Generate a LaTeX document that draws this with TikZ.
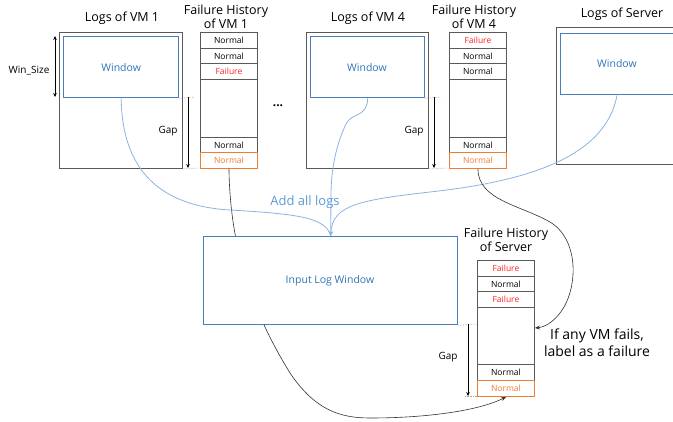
\documentclass[tikz,border=0pt]{standalone}
\usepackage{fontspec}
\setmainfont{Open Sans}
\usetikzlibrary{arrows.meta}
\definecolor{winblue}{HTML}{4A7EBB}
\definecolor{wintext}{HTML}{2E75B6}
\definecolor{flowblue}{HTML}{8DB3E2}
\definecolor{addblue}{HTML}{5B9BD5}
\definecolor{failred}{HTML}{FF2020}
\definecolor{lastorange}{HTML}{ED7D31}
\definecolor{boxgray}{HTML}{595959}
\tikzset{
  logbox/.style={draw=boxgray, line width=0.9pt, anchor=north west, inner sep=0pt},
  winbox/.style={draw=winblue, line width=1.4pt, fill=white, text=wintext,
    font=\fontsize{10.5}{12}\selectfont, anchor=north west, inner sep=0pt},
  cell/.style={draw=boxgray, line width=0.9pt, minimum width=57pt, inner sep=0pt,
    anchor=north west, font=\fontsize{8.5}{10}\selectfont},
  okcell/.style={cell, text=black},
  failcell/.style={cell, text=failred},
  lastcell/.style={cell, draw=lastorange, text=lastorange},
  title/.style={font=\fontsize{12.5}{14.5}\selectfont, align=center},
  label/.style={font=\fontsize{10}{12}\selectfont},
  wintitle/.style={text=wintext, font=\fontsize{10.5}{12}\selectfont},
  gapline/.style={draw=black!35, densely dotted, line width=0.6pt},
  gaparrow/.style={draw=black, line width=0.5pt, -{Stealth[length=4pt,width=3.5pt]}},
  sizearrow/.style={draw=black, line width=0.5pt, {Stealth[length=4pt,width=3.5pt]}-{Stealth[length=4pt,width=3.5pt]}},
  flow/.style={draw=flowblue, line width=0.8pt},
  flowtip/.style={flow, -{Stealth[length=5pt,width=5pt,fill=flowblue]}},
  merge/.style={draw=black!80, line width=0.6pt, -{Stealth[length=5pt,width=4pt]}},
}
\begin{document}
\begin{tikzpicture}[x=1pt,y=-1pt]
\useasboundingbox (0,0) rectangle (673,421);
\fill[white] (0,0) rectangle (673,421);

% ---- logs of the virtual machines and the server
\node[logbox, minimum width=123pt, minimum height=136pt] (vm1) at (59,32) {};
\node[winbox, minimum width=115pt, minimum height=61pt] (w1) at (63,36) {Window};
\node[title] (t1) at (122,18) {Logs of VM 1};

\node[logbox, minimum width=122pt, minimum height=136pt] (vm4) at (306,32) {};
\node[winbox, minimum width=114pt, minimum height=61pt] (w4) at (310,36) {};
\node[wintitle] (w4t) at (367,68) {Window};
\node[title] (t4) at (368,18) {Logs of VM 4};

\node[logbox, minimum width=160pt, minimum height=137pt] (srv) at (556,27) {};
\node[winbox, minimum width=160pt, minimum height=61pt] (ws) at (560,33) {};
\node[wintitle] (wst) at (617,64) {Window};
\node[title] (ts) at (622,14) {Logs of Server};

\node[font=\bfseries\fontsize{12}{14}\selectfont] (dots) at (278,106) {...};

% ---- window size and gaps
\coordinate (ws1a) at (55,36);
\coordinate (ws1b) at (55,97);
\draw[sizearrow] (ws1a) -- (ws1b);
\node[label] (wsl) at (29,71) {Win\_Size};

\coordinate (g1a) at (195,97);
\coordinate (g1b) at (199,168);
\draw[gapline] (w1.south east) -- (g1a);
\draw[gapline] (vm1.south east) -- (g1b);
\coordinate (g1t) at (188,97);
\coordinate (g1e) at (188,168);
\draw[gaparrow] (g1t) -- (g1e);
\node[label] (g1l) at (168,131) {Gap};

\coordinate (g4a) at (441,97);
\coordinate (g4b) at (448,168);
\draw[gapline] (w4.south east) -- (g4a);
\draw[gapline] (vm4.south east) -- (g4b);
\coordinate (g4t) at (434,97);
\coordinate (g4e) at (434,168);
\draw[gaparrow] (g4t) -- (g4e);
\node[label] (g4l) at (414,131) {Gap};

% ---- failure history of VM 1
\node[okcell, minimum height=16pt] (a1) at (200,32) {Normal};
\node[okcell, minimum height=15pt] (a2) at (200,48) {Normal};
\node[failcell, minimum height=16pt] (a3) at (200,63) {Failure};
\node[cell, minimum height=58pt] (a4) at (200,79) {};
\node[okcell, minimum height=15pt] (a5) at (200,137) {Normal};
\node[lastcell, minimum height=16pt] (a6) at (200,152) {Normal};
\node[title] (ta) at (226,17) {Failure History\\of VM 1};

% ---- failure history of VM 4
\node[failcell, minimum height=16pt] (b1) at (449,32) {Failure};
\node[okcell, minimum height=15pt] (b2) at (449,48) {Normal};
\node[okcell, minimum height=16pt] (b3) at (449,63) {Normal};
\node[cell, minimum height=58pt] (b4) at (449,79) {};
\node[okcell, minimum height=15pt] (b5) at (449,137) {Normal};
\node[lastcell, minimum height=16pt] (b6) at (449,152) {Normal};
\node[title] (tb) at (474,17) {Failure History\\of VM 4};

% ---- history flow of VM 1 into the server history (passes under the input window)
\draw[merge] (a6.south) .. controls (230,235) and (245,300) .. (290,373)
  .. controls (315,410) and (340,418) .. (370,418)
  .. controls (430,418) and (480,410) .. (506,397);

% ---- logs gathered into the input window
\node[winbox, minimum width=254pt, minimum height=88pt] (ilw) at (203,236) {};
\node[wintitle] (ilwt) at (330,281) {Input Log Window};

\draw[flow] (w1.south) .. controls (122,170) and (160,206) .. (230,210)
  .. controls (300,214) and (326,218) .. (ilw.north);
\draw[flow] (w4.south) .. controls (367,118) and (352,112) .. (346,124)
  .. controls (336,145) and (331,170) .. (331,195) -- (ilw.north);
\draw[flowtip] (wst |- ws.south) .. controls (605,160) and (520,182) .. (430,192)
  .. controls (360,200) and (332,205) .. (ilw.north);
\node[text=addblue, font=\fontsize{13}{15}\selectfont] (add) at (305,202) {Add all logs};

% ---- failure history of the server
\node[failcell, minimum height=16pt] (c1) at (477,260) {Failure};
\node[okcell, minimum height=15pt] (c2) at (477,276) {Normal};
\node[failcell, minimum height=16pt] (c3) at (477,291) {Failure};
\node[cell, minimum height=57pt] (c4) at (477,307) {};
\node[okcell, minimum height=16pt] (c5) at (477,364) {Normal};
\node[lastcell, minimum height=16pt] (c6) at (477,380) {Normal};
\node[title] (tc) at (506,240) {Failure History\\of Server};

\coordinate (gsa) at (477,324);
\coordinate (gsb) at (477,396);
\draw[gapline] (ilw.south east) -- (gsa);
\coordinate (gsc) at (465,396);
\draw[gapline] (gsc) -- (gsb);
\coordinate (gst) at (468,324);
\coordinate (gse) at (468,396);
\draw[gaparrow] (gst) -- (gse);
\node[label] (gsl) at (448,357) {Gap};

% ---- history flow of VM 4 into the server history
\coordinate (c4r) at (535,328);
\draw[merge] (b6.south) .. controls (478,200) and (520,205) .. (550,222)
  .. controls (580,240) and (578,290) .. (560,313)
  .. controls (553,322) and (545,327) .. (c4r);
\node[font=\fontsize{14}{17}\selectfont, align=center] (rule) at (597,343)
  {If any VM fails,\\label as a failure};
\end{tikzpicture}
\end{document}
